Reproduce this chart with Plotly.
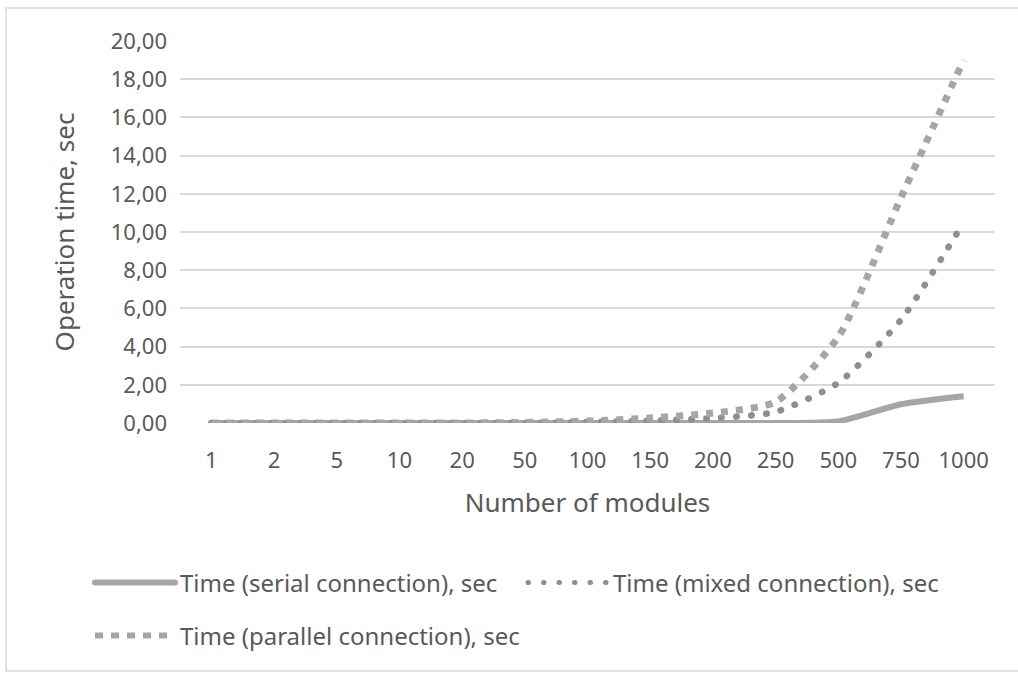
import plotly.graph_objects as go

categories = ["1", "2", "5", "10", "20", "50", "100", "150", "200", "250", "500", "750", "1000"]
serial = [0, 0, 0, 0, 0, 0, 0, 0, 0, 0, 0.08, 0.98, 1.4]
mixed = [0, 0, 0, 0, 0, 0.01, 0.05, 0.12, 0.25, 0.58, 2.1, 5.4, 10.5]
parallel = [0, 0, 0, 0, 0, 0.03, 0.1, 0.26, 0.52, 1.1, 4.5, 11.8, 19.0]

names = ["Time (serial connection), sec", "Time (mixed connection), sec", "Time (parallel connection), sec"]
y_ticks = [0, 2, 4, 6, 8, 10, 12, 14, 16, 18, 20]

FONT = "Noto Sans"
TXT = "#595959"

fig = go.Figure()
fig.add_trace(go.Scatter(x=categories, y=serial, name=names[0], mode="lines",
                         line=dict(color="#a6a6a6", width=6, shape="spline", smoothing=0.6),
                         legend="legend"))
fig.add_trace(go.Scatter(x=categories, y=mixed, name=names[1], mode="lines",
                         line=dict(color="#8f8f8f", width=6.5, dash="6px,9px", shape="spline", smoothing=0.6),
                         legend="legend"))
fig.add_trace(go.Scatter(x=categories, y=parallel, name=names[2], mode="lines",
                         line=dict(color="#a6a6a6", width=7, dash="7px,8px", shape="spline", smoothing=0.6),
                         legend="legend2"))

L, R, T, B = 180, 23, 41, 250
W, H = 1018, 673
pw, ph = W - L - R, H - T - B

def px(x):
    return (x - L) / pw

def py(y):
    return (H - B - y) / ph

fig.update_layout(
    width=W, height=H,
    margin=dict(l=L, r=R, t=T, b=B),
    paper_bgcolor="white", plot_bgcolor="white",
    separators=", ",
    font=dict(family=FONT, color=TXT, size=22),
    xaxis=dict(type="category", range=[-0.5, 12.5], showgrid=False, zeroline=False, showline=False,
               ticks="", tickfont=dict(size=22, color=TXT), ticklabelstandoff=22,
               title=dict(text="Number of modules", font=dict(size=26, color=TXT), standoff=20)),
    yaxis=dict(range=[0, 20], tickvals=y_ticks, tickformat=".2f", showgrid=True,
               gridcolor="#d9d9d9", gridwidth=1.6, zeroline=False, showline=False,
               ticks="", tickfont=dict(size=22, color=TXT), ticklabelstandoff=12,
               title=dict(text="Operation time, sec", font=dict(size=26, color=TXT), standoff=28)),
    legend=dict(orientation="h", x=px(90), xanchor="left", y=py(583), yanchor="middle",
                font=dict(size=24, color=TXT), entrywidth=338, entrywidthmode="pixels",
                bgcolor="rgba(0,0,0,0)", itemwidth=80, tracegroupgap=0),
    legend2=dict(orientation="h", x=px(90), xanchor="left", y=py(636), yanchor="middle",
                 font=dict(size=24, color=TXT), bgcolor="rgba(0,0,0,0)", itemwidth=80),
    showlegend=True,
    shapes=[dict(type="rect", xref="paper", yref="paper",
                 x0=px(6), x1=px(1030), y0=py(671), y1=py(8),
                 line=dict(color="#d9d9d9", width=1.5), fillcolor="rgba(0,0,0,0)", layer="below")],
)

post = """
(function(){
  function fix(){
    var traces = document.querySelectorAll('.scatterlayer .trace');
    if (traces.length > 1) {
      traces[1].querySelectorAll('path.js-line').forEach(function(p){
        p.style.strokeLinecap = 'round';
        p.style.strokeDasharray = '0.5px,14.5px';
      });
    }
    document.querySelectorAll('.infolayer .traces').forEach(function(t){
      var txt = t.textContent;
      t.querySelectorAll('path.js-line').forEach(function(p){
        if (txt.indexOf('mixed') >= 0) {
          p.style.strokeLinecap = 'round';
          p.style.strokeDasharray = '0.5px,15px';
          p.style.strokeWidth = '5px';
        } else if (txt.indexOf('parallel') >= 0) {
          p.style.strokeDasharray = '8px,8px';
          p.style.strokeWidth = '6px';
        } else {
          p.style.strokeLinecap = 'round';
          p.style.strokeWidth = '6px';
        }
      });
    });
  }
  fix();
  var gd = document.getElementById('{plot_id}');
  if (gd && gd.on) { gd.on('plotly_afterplot', fix); }
})();
"""

fig.write_html("out.html", post_script=post)
